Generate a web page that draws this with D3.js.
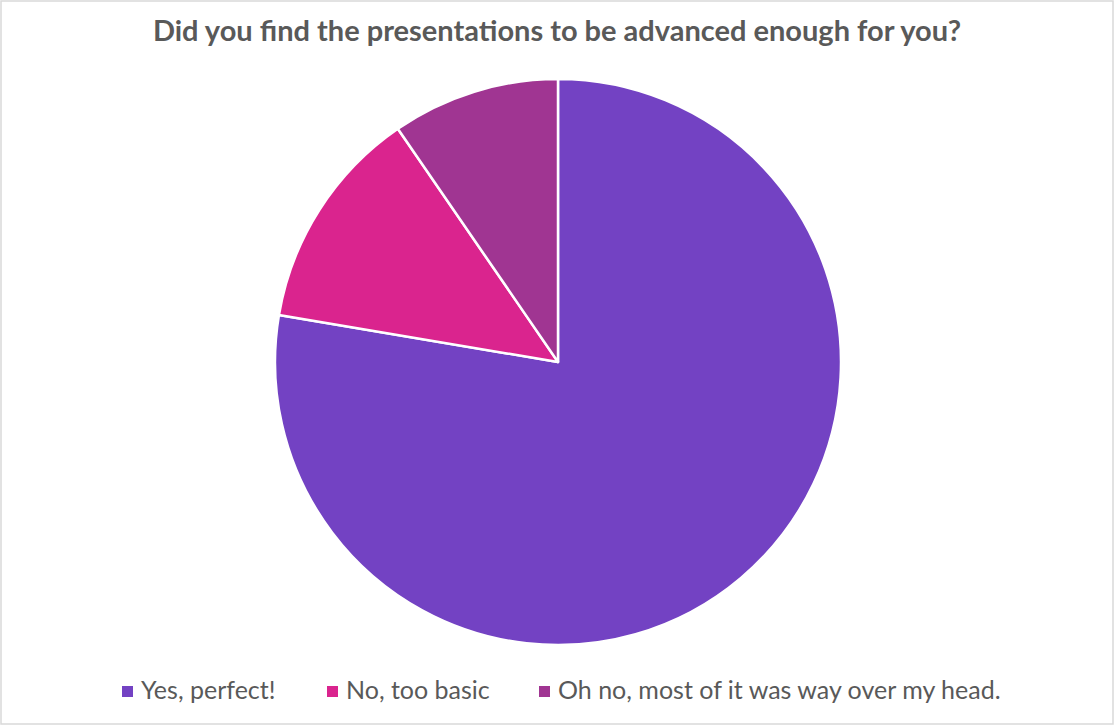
<!DOCTYPE html>
<html><head><meta charset="utf-8">
<script src="https://cdn.jsdelivr.net/npm/d3@7"></script>
<style>body{margin:0;background:#fff;} svg{display:block;}</style>
</head><body>
<svg id="c" width="1114" height="725"></svg>
<script>
const categories = ["Yes, perfect!", "No, too basic", "Oh no, most of it was way over my head."];
const values = [73, 12, 9];
const colors = ["#7342C3", "#DA248E", "#A03592"];
const title = "Did you find the presentations to be advanced enough for you?";

const svg = d3.select("#c");
const W = 1114, H = 725;
svg.append("rect").attr("x", 1).attr("y", 1).attr("width", W - 2).attr("height", H - 2)
  .attr("fill", "#fff").attr("stroke", "#d9d9d9").attr("stroke-width", 1.5);

svg.append("text").attr("x", 557).attr("y", 41).attr("text-anchor", "middle")
  .attr("font-family", "Lato").attr("font-weight", "bold").attr("font-size", 29)
  .attr("fill", "#595959").text(title);

const data = categories.map((c, i) => ({ c, v: values[i], col: colors[i] }));
const pie = d3.pie().value(d => d.v).sort(null);
const arc = d3.arc().innerRadius(0).outerRadius(283);
const g = svg.append("g").attr("transform", "translate(558,362)");
g.selectAll("path").data(pie(data)).join("path")
  .attr("d", arc).attr("fill", d => d.data.col)
  .attr("stroke", "#fff").attr("stroke-width", 2.5).attr("stroke-linejoin", "round");

const legendX = [122, 327, 539];
const lg = svg.append("g");
data.forEach((d, i) => {
  lg.append("rect").attr("x", legendX[i]).attr("y", 686).attr("width", 11).attr("height", 11).attr("fill", d.col);
  lg.append("text").attr("x", legendX[i] + 19).attr("y", 699)
    .attr("font-family", "Lato").attr("font-size", 25).attr("fill", "#595959").text(d.c);
});
</script>
</body></html>
